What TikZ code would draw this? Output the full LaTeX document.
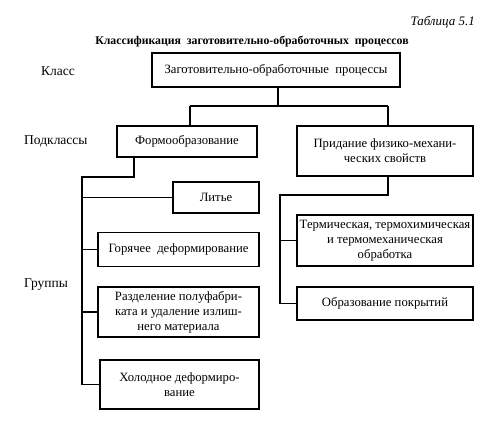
\documentclass[tikz,border=0pt]{standalone}
\usepackage{fontspec}
\setmainfont{Liberation Serif}
\usetikzlibrary{positioning,calc}

\begin{document}
\begin{tikzpicture}[
  x=1pt, y=1pt,
  pbox/.style={draw, line width=1.1pt, align=center, inner sep=2pt, font=\fontsize{12.7}{15}\selectfont},
  lab/.style={font=\fontsize{13.5}{16}\selectfont, inner sep=0pt},
  lnk/.style={line width=1.1pt}
]
\useasboundingbox (0,0) rectangle (500,-423);
% headings
\node[lab, anchor=east, font=\fontsize{13}{15}\itshape] (tab) at (475,-22) {Таблица 5.1};
\node[lab, font=\fontsize{11.8}{14}\bfseries] (head) at (252,-42) {Классификация\ \ заготовительно-обработочных\ \ процессов};
% row labels
\node[lab, anchor=west] (lclass) at (41,-71) {Класс};
\node[lab, anchor=west] (lsub) at (24,-141) {Подклассы};
\node[lab, anchor=west] (lgrp) at (24,-285) {Группы};
% class and subclasses
\node[pbox, minimum width=248, minimum height=34] (top) at (276,-70) {Заготовительно-обработочные\ \ процессы};
\node[pbox, minimum width=140, minimum height=31] (form) at (187,-141.5) {Формообразование};
\node[pbox, minimum width=176, minimum height=50] (prid) at (385,-151) {Придание физико-механи-\\ческих свойств};
% groups, left
\node[pbox, minimum width=86, minimum height=31] (lit) at (216,-197.5) {Литье};
\node[pbox, minimum width=161, minimum height=34] (hot) at (178.5,-249.5) {Горячее\ \ деформирование};
\node[pbox, minimum width=161, minimum height=50] (razd) at (178.5,-312) {Разделение полуфабри-\\ката и удаление излиш-\\него материала};
\node[pbox, minimum width=159, minimum height=49] (cold) at (179.5,-384.5) {Холодное деформиро-\\вание};
% groups, right
\node[pbox, minimum width=176, minimum height=51] (term) at (385,-240.5) {Термическая, термохимическая\\и термомеханическая\\обработка};
\node[pbox, minimum width=176, minimum height=33] (cover) at (385,-303.5) {Образование покрытий};
% junctions
\coordinate (jl) at (190,-106);
\coordinate (jr) at (388,-106);
\coordinate (fl) at (134,-177);
\coordinate (sl) at (82,-177);
\coordinate (pr) at (388,-195);
\coordinate (sr) at (280,-195);
% class to subclasses
\draw[lnk] (top.south -| 278,0) -- (278,-106);
\draw[lnk] (jl) -- (jr);
\draw[lnk] (jl) -- (jl |- form.north);
\draw[lnk] (jr) -- (jr |- prid.north);
% left tree
\draw[lnk] (fl |- form.south) -- (fl) -- (sl) -- (sl |- cold.west) -- (cold.west);
\draw[lnk] (sl |- lit.west) -- (lit.west);
\draw[lnk] (sl |- hot.west) -- (hot.west);
\draw[lnk] (sl |- razd.west) -- (razd.west);
% right tree
\draw[lnk] (pr |- prid.south) -- (pr) -- (sr) -- (sr |- cover.west) -- (cover.west);
\draw[lnk] (sr |- term.west) -- (term.west);
\end{tikzpicture}
\end{document}
